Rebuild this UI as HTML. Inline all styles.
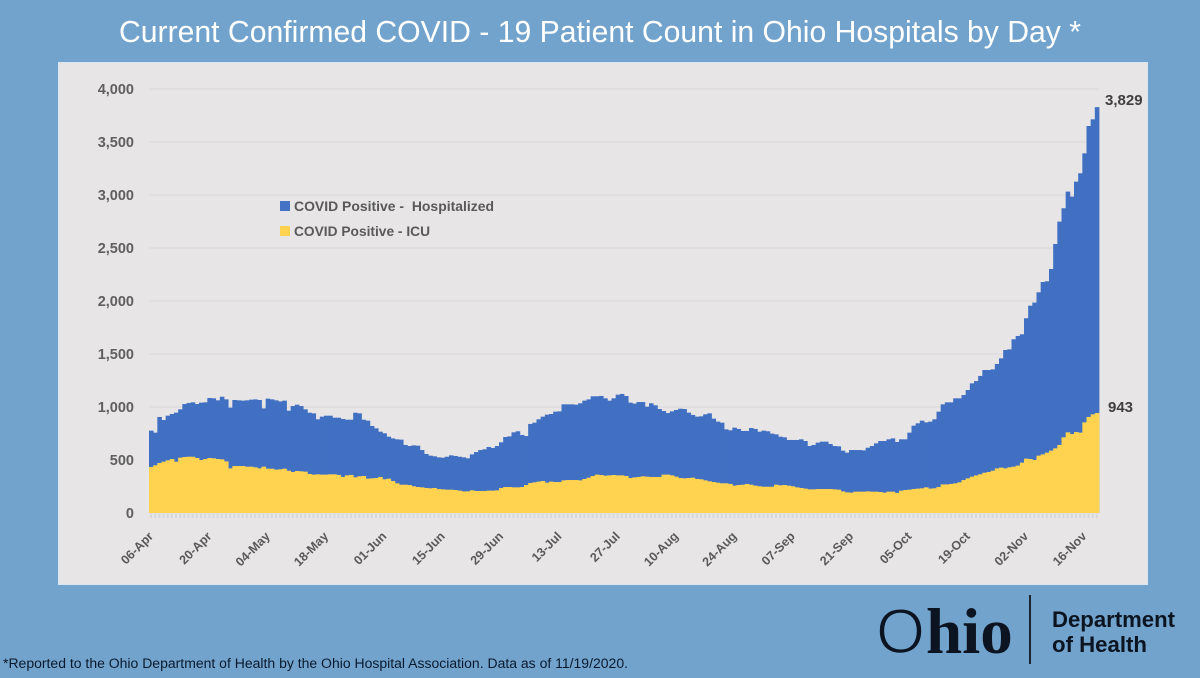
<!DOCTYPE html>
<html lang="en">
<head>
<meta charset="utf-8">
<title>Current Confirmed COVID-19 Patient Count in Ohio Hospitals by Day</title>
<style>
  html, body { margin: 0; padding: 0; width: 1200px; height: 678px; overflow: hidden; background: #72a3cd; }
  svg { display: block; }
  text { font-family: "Liberation Sans", sans-serif; }
</style>
</head>
<body>
<svg id="slide" xmlns="http://www.w3.org/2000/svg" width="1200" height="678" viewBox="0 0 1200 678">
  <rect x="0" y="0" width="1200" height="678" fill="#72a3cd"/>
  <text x="119" y="42" font-size="30.5" fill="#ffffff" textLength="962" lengthAdjust="spacingAndGlyphs">Current Confirmed COVID - 19 Patient Count in Ohio Hospitals by Day *</text>
  <rect x="58.5" y="62.5" width="1089" height="522" fill="#e7e5e6" stroke="#d8e5f2" stroke-width="1"/>
  <g id="grid"></g>
  <g id="xminor"></g>
  <g id="bars-total"></g>
  <g id="bars-icu"></g>
  <g id="ylabels"></g>
  <g id="xlabels"></g>
  <g id="endlabels"></g>

  <g>
    <g>
      <rect x="280" y="201" width="10" height="10" fill="#4472c4"/>
      <text x="294" y="211" font-size="14" font-weight="bold" fill="#595959" textLength="200" lengthAdjust="spacingAndGlyphs" xml:space="preserve">COVID Positive -  Hospitalized</text>
    </g>
    <g>
      <rect x="280" y="226" width="10" height="10" fill="#ffd34f"/>
      <text x="294" y="236" font-size="14" font-weight="bold" fill="#595959" textLength="136" lengthAdjust="spacingAndGlyphs">COVID Positive - ICU</text>
    </g>
  </g>

  <g>
    <text x="876" y="653" fill="#0b1420"><tspan font-size="63" font-weight="normal" stroke="#72a3cd" stroke-width="1.6">O</tspan><tspan font-size="65" font-weight="bold" dx="1" style="font-family:'Liberation Serif',serif">hio</tspan></text>
    <rect x="1029" y="595" width="2" height="69" fill="#1a2530"/>
    <text x="1052" y="627" font-size="22" font-weight="bold" fill="#0b1420" textLength="123" lengthAdjust="spacingAndGlyphs">Department</text>
    <text x="1052" y="652" font-size="22" font-weight="bold" fill="#0b1420" textLength="95" lengthAdjust="spacingAndGlyphs">of Health</text>
  </g>

  <text x="3" y="668" font-size="13.5" fill="#0a1a2c" textLength="625" lengthAdjust="spacingAndGlyphs">*Reported to the Ohio Department of Health by the Ohio Hospital Association. Data as of 11/19/2020.</text>
</svg>

<script>
const hospitalizedTotals = [
  777,758,906,877,918,934,947,978,1028,1038,
  1044,1028,1041,1044,1085,1082,1063,1097,1072,994,
  1066,1063,1060,1063,1069,1072,1066,987,1079,1072,
  1063,1053,1060,965,1009,1022,1009,978,946,940,
  884,909,918,918,899,899,887,880,880,946,
  940,880,871,821,799,767,752,720,704,695,
  692,642,632,638,635,594,557,541,535,525,
  522,531,544,538,531,525,516,553,575,594,
  601,623,613,632,667,717,723,761,771,736,
  726,840,852,884,909,928,934,956,959,1025,
  1025,1025,1022,1035,1060,1072,1101,1101,1104,1082,
  1060,1082,1116,1123,1104,1041,1032,1047,1047,1003,
  1035,1016,981,962,943,959,972,984,981,947,
  925,909,912,931,940,890,862,852,789,780,
  805,793,774,774,802,793,767,777,771,749,
  742,720,714,689,689,689,695,679,632,642,
  664,673,673,651,632,629,588,569,594,594,
  594,591,616,632,657,679,679,695,704,670,
  695,695,758,824,846,871,855,862,884,956,
  1025,1044,1044,1082,1082,1113,1160,1223,1245,1293,
  1349,1349,1355,1406,1459,1538,1544,1639,1670,1686,
  1837,1956,1985,2082,2179,2186,2302,2538,2749,2875,
  3032,2985,3126,3205,3393,3651,3714,3829
];
const icuCounts = [
  434,450,472,484,497,509,484,522,528,531,
  531,519,500,509,519,516,509,506,487,421,
  443,443,443,437,437,431,421,437,418,418,
  409,412,418,399,387,396,393,390,368,362,
  365,362,362,365,365,359,340,355,359,337,
  346,349,324,327,330,340,318,324,302,280,
  267,267,264,252,245,242,236,233,236,226,
  223,220,220,217,211,204,204,214,208,208,
  208,211,211,214,236,245,245,242,242,245,
  264,283,289,296,302,286,296,292,292,308,
  311,311,311,308,321,333,349,362,358,352,
  355,358,355,355,349,330,336,340,346,343,
  340,340,340,362,362,355,343,330,327,330,
  333,321,318,308,299,292,286,280,280,274,
  258,264,267,274,267,258,252,248,248,248,
  267,261,264,258,252,242,236,230,223,223,
  226,226,226,226,223,220,204,195,192,201,
  201,201,204,201,201,198,192,201,201,189,
  211,217,220,226,230,233,242,230,233,245,
  270,270,274,280,289,311,327,343,355,365,
  380,387,399,421,428,421,431,437,447,475,
  513,509,500,541,553,569,588,610,642,714,
  761,745,764,758,855,906,931,943
];
const yTicks = [0,500,1000,1500,2000,2500,3000,3500,4000];
const xTickLabels = ["06-Apr","20-Apr","04-May","18-May","01-Jun","15-Jun","29-Jun","13-Jul","27-Jul","10-Aug","24-Aug","07-Sep","21-Sep","05-Oct","19-Oct","02-Nov","16-Nov"];
const xTickEvery = 14;

const NS = "http://www.w3.org/2000/svg";
const plotLeft = 149, plotRight = 1099, plotBottom = 513, plotTop = 89, yMax = 4000;
const dayCount = hospitalizedTotals.length;
const dayWidth = (plotRight - plotLeft) / dayCount;
const xScale = d => plotLeft + d * dayWidth;
const yScale = v => plotBottom - (v / yMax) * (plotBottom - plotTop);

function make(tag, attrs, parent, txt) {
  const el = document.createElementNS(NS, tag);
  for (const k in attrs) el.setAttribute(k, attrs[k]);
  if (txt !== undefined) el.textContent = txt;
  parent.appendChild(el);
  return el;
}

const gridG = document.getElementById("grid");
const yLabelG = document.getElementById("ylabels");
yTicks.forEach(v => {
  const line = make("line", {x1: plotLeft, x2: plotRight, y1: yScale(v), y2: yScale(v), stroke: "#d9d8d8", "stroke-width": 1}, gridG);
  
  
  const lab = make("text", {x: 134, y: yScale(v) + 5, "text-anchor": "end", "font-size": 14.5, "font-weight": "bold", fill: "#5f5f5f"}, yLabelG, v.toLocaleString("en-US"));
  
  
});

const minorG = document.getElementById("xminor");
hospitalizedTotals.forEach((_, d) => {
  const t = make("rect", {x: xScale(d) + 1, y: plotBottom + 1, width: 2, height: 4, fill: "#d9d8d8"}, minorG);
  
  
});

const totalG = document.getElementById("bars-total");
hospitalizedTotals.forEach((v, d) => {
  const r = make("rect", {x: xScale(d), y: yScale(v), width: dayWidth + 0.4, height: plotBottom - yScale(v), fill: "#4170c3"}, totalG);
  
  
});

const icuG = document.getElementById("bars-icu");
icuCounts.forEach((v, d) => {
  const r = make("rect", {x: xScale(d), y: yScale(v), width: dayWidth + 0.4, height: plotBottom - yScale(v), fill: "#ffd34f"}, icuG);
  
  
});

const xLabelG = document.getElementById("xlabels");
xTickLabels.forEach((label, i) => {
  const px = xScale(i * xTickEvery) + 5;
  const py = 537;
  const t = make("text", {x: px, y: py, "text-anchor": "end", "font-size": 12.5, "font-weight": "bold", fill: "#595959", transform: "rotate(-45 " + px + " " + py + ")"}, xLabelG, label);
  
  
});

const endG = document.getElementById("endlabels");
const lastTotal = hospitalizedTotals[dayCount - 1];
const lastIcu = icuCounts[dayCount - 1];
const endTotalLabel = make("text", {x: xScale(dayCount) + 6, y: yScale(lastTotal) - 2, "font-size": 15, "font-weight": "bold", fill: "#404040"}, endG, lastTotal.toLocaleString("en-US"));


const endIcuLabel = make("text", {x: xScale(dayCount) + 9, y: yScale(lastIcu) - 1, "font-size": 15, "font-weight": "bold", fill: "#404040"}, endG, lastIcu.toLocaleString("en-US"));


</script>
</body>
</html>
